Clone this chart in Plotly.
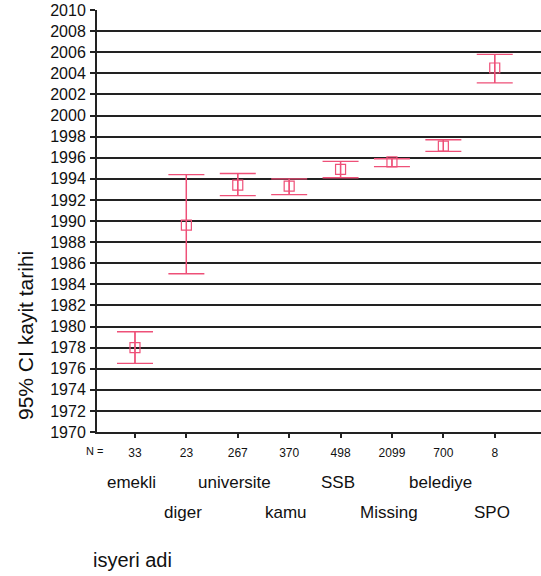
import plotly.graph_objects as go

categories = ["emekli", "diger", "universite", "kamu", "SSB", "Missing", "belediye", "SPO"]
n_values = ["33", "23", "267", "370", "498", "2099", "700", "8"]
means = [1978.0, 1989.6, 1993.4, 1993.3, 1994.9, 1995.6, 1997.1, 2004.5]
upper = [1979.5, 1994.4, 1994.5, 1994.0, 1995.65, 1995.9, 1997.7, 2005.8]
lower = [1976.5, 1985.0, 1992.4, 1992.5, 1994.1, 1995.15, 1996.6, 2003.1]
y_ticks = list(range(1970, 2011, 2))

RED = "#EE5078"
FONT = "Liberation Sans, Arial, sans-serif"

xs = list(range(len(categories)))
err_plus = [u - m for u, m in zip(upper, means)]
err_minus = [m - l for m, l in zip(means, lower)]

fig = go.Figure()
fig.add_trace(go.Scatter(
    x=xs, y=means, mode="markers",
    marker=dict(symbol="square-open", size=10, color=RED, line=dict(width=1.2, color=RED)),
    error_y=dict(type="data", symmetric=False, array=err_plus, arrayminus=err_minus,
                 color=RED, thickness=1.3, width=18),
    showlegend=False, hoverinfo="skip",
))
for x, l, u in zip(xs, lower, upper):
    fig.add_trace(go.Scatter(x=[x, x], y=[l, u], mode="lines",
                             line=dict(color=RED, width=1.3),
                             showlegend=False, hoverinfo="skip"))

W, H = 541, 576
L, R, T, B = 97, 0, 10, 144
pw = W - L - R
ph = H - T - B

def px_x(px):
    return (px - L) / pw

def px_y(py):
    return (H - B - py) / ph

annotations = []
for i, c in enumerate(categories):
    annotations.append(dict(
        x=i, xref="x", xshift=-3, y=px_y(482 if i % 2 == 0 else 512), yref="paper",
        text=c, showarrow=False, xanchor="center", yanchor="middle",
        font=dict(family=FONT, size=17, color="#111"),
    ))
annotations.append(dict(x=px_x(94), xref="paper", y=px_y(451), yref="paper",
                        text="N =", showarrow=False, xanchor="center", yanchor="middle",
                        font=dict(family=FONT, size=11, color="#111")))
annotations.append(dict(x=px_x(91), xref="paper", y=px_y(560), yref="paper",
                        text="isyeri adi", showarrow=False, xanchor="left", yanchor="middle",
                        font=dict(family=FONT, size=20, color="#111")))
annotations.append(dict(x=px_x(25), xref="paper", y=px_y(336), yref="paper",
                        text="95% CI kayit tarihi", textangle=-90, showarrow=False,
                        xanchor="center", yanchor="middle",
                        font=dict(family=FONT, size=21, color="#111")))

fig.update_layout(
    width=W, height=H,
    margin=dict(l=L, r=R, t=T, b=B, pad=0),
    paper_bgcolor="white", plot_bgcolor="white",
    font=dict(family=FONT, color="#111"),
    annotations=annotations,
    xaxis=dict(
        range=[-0.739, 7.9], tickmode="array", tickvals=xs, ticktext=n_values,
        ticks="outside", ticklen=4, tickwidth=1.5, tickcolor="#222",
        tickfont=dict(family=FONT, size=12, color="#111"),
        showgrid=False, zeroline=False, showline=True, linecolor="#222", linewidth=2,
        ticklabelstandoff=5,
    ),
    yaxis=dict(
        range=[1970, 2010], tickmode="array", tickvals=y_ticks,
        ticks="outside", ticklen=5, tickwidth=1.5, tickcolor="#222",
        tickfont=dict(family=FONT, size=16, color="#111"),
        showgrid=True, gridcolor="#222", gridwidth=1.6,
        zeroline=False, showline=True, linecolor="#222", linewidth=2,
        ticklabelstandoff=1,
    ),
)

fig.write_html("out.html", config={"displayModeBar": False},
               post_script="document.body.style.margin='0';document.body.style.overflow='hidden';")
